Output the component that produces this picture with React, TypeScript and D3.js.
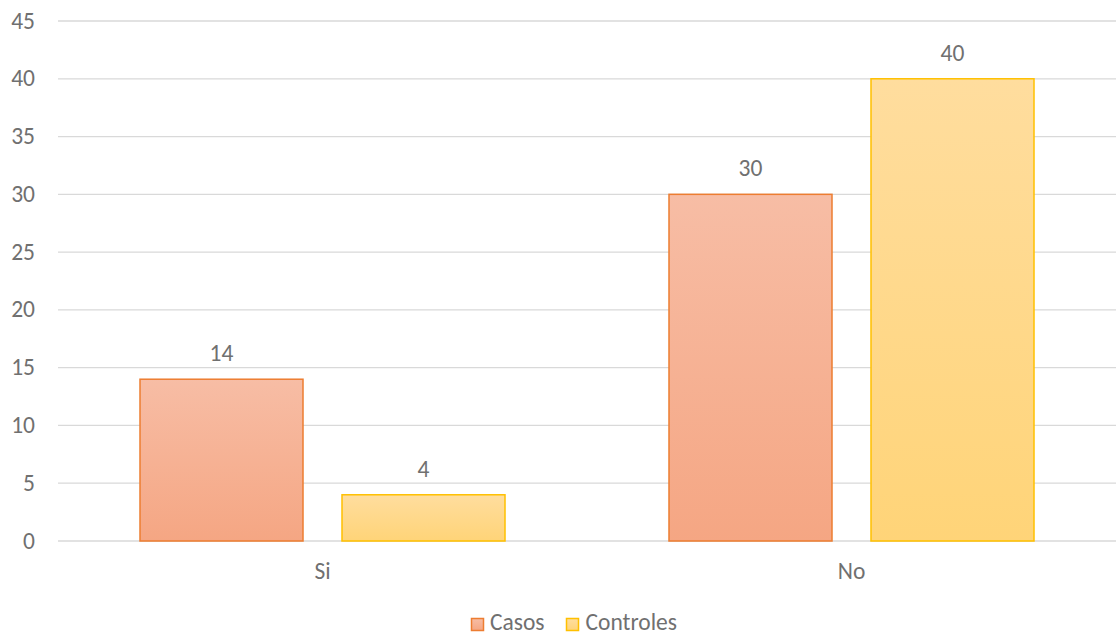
import React from "react";
import * as d3 from "d3";

const categories = ["Si", "No"];
const seriesNames = ["Casos", "Controles"];
const casos = [14, 30];
const controles = [4, 40];
const yTicks = [0, 5, 10, 15, 20, 25, 30, 35, 40, 45];

const W = 1116;
const H = 637;
const FONT = "Carlito, Calibri, 'Open Sans', 'Noto Sans', sans-serif";
const TXT = "#707070";
const FS = 23.5;

export default function App() {
  const left = 58, right = 1116, top = 21, bottom = 541;
  const x0 = d3.scaleBand<string>().domain(categories).range([left, right]).padding(0);
  const bw = x0.bandwidth();
  const x1 = d3.scaleBand<string>().domain(seriesNames).range([0, bw]).paddingInner(39 / 202).paddingOuter(82 / 202);
  const y = d3.scaleLinear().domain([0, 45]).range([bottom, top]);
  const data = [casos, controles];
  const fills = ["url(#gCasos)", "url(#gCtrl)"];
  const strokes = ["#ED7D31", "#FFC000"];

  return (
    <svg width={W} height={H} style={{ position: "absolute", left: 0, top: 0, fontFamily: FONT }}>
      <defs>
        <linearGradient id="gCasos" x1="0" y1="0" x2="0" y2="1">
          <stop offset="0" stopColor="#F7BDA5" />
          <stop offset="1" stopColor="#F5A683" />
        </linearGradient>
        <linearGradient id="gCtrl" x1="0" y1="0" x2="0" y2="1">
          <stop offset="0" stopColor="#FFDD9E" />
          <stop offset="1" stopColor="#FFD478" />
        </linearGradient>
      </defs>
      <rect x={0} y={0} width={W} height={H} fill="#fff" />
      {yTicks.map((t) => (
        <g key={t}>
          <line x1={left} x2={right} y1={y(t)} y2={y(t)} stroke="#D9D9D9" strokeWidth={1.3} />
          <text x={35} y={y(t) + 7.5} textAnchor="end" fontSize={FS} fill={TXT}>{t}</text>
        </g>
      ))}
      {categories.map((c, ci) => (
        <g key={c}>
          {seriesNames.map((s, si) => {
            const v = data[si][ci];
            const bx = (x0(c) as number) + (x1(s) as number);
            const w = x1.bandwidth();
            return (
              <g key={s}>
                <rect x={bx} y={y(v)} width={w} height={y(0) - y(v)} fill={fills[si]} stroke={strokes[si]} strokeWidth={1.5} />
                <text x={bx + w / 2} y={y(v) - 18} textAnchor="middle" fontSize={FS} fill={TXT}>{v}</text>
              </g>
            );
          })}
          <text x={(x0(c) as number) + bw / 2} y={579} textAnchor="middle" fontSize={FS} fill={TXT}>{c}</text>
        </g>
      ))}
      <g>
        <rect x={471.5} y={618.5} width={12} height={12} fill="url(#gCasos)" stroke="#ED7D31" strokeWidth={1.5} />
        <text x={490} y={630} fontSize={FS} fill={TXT}>Casos</text>
        <rect x={566.5} y={618.5} width={12} height={12} fill="url(#gCtrl)" stroke="#FFC000" strokeWidth={1.5} />
        <text x={585.5} y={630} fontSize={FS} fill={TXT}>Controles</text>
      </g>
    </svg>
  );
}
